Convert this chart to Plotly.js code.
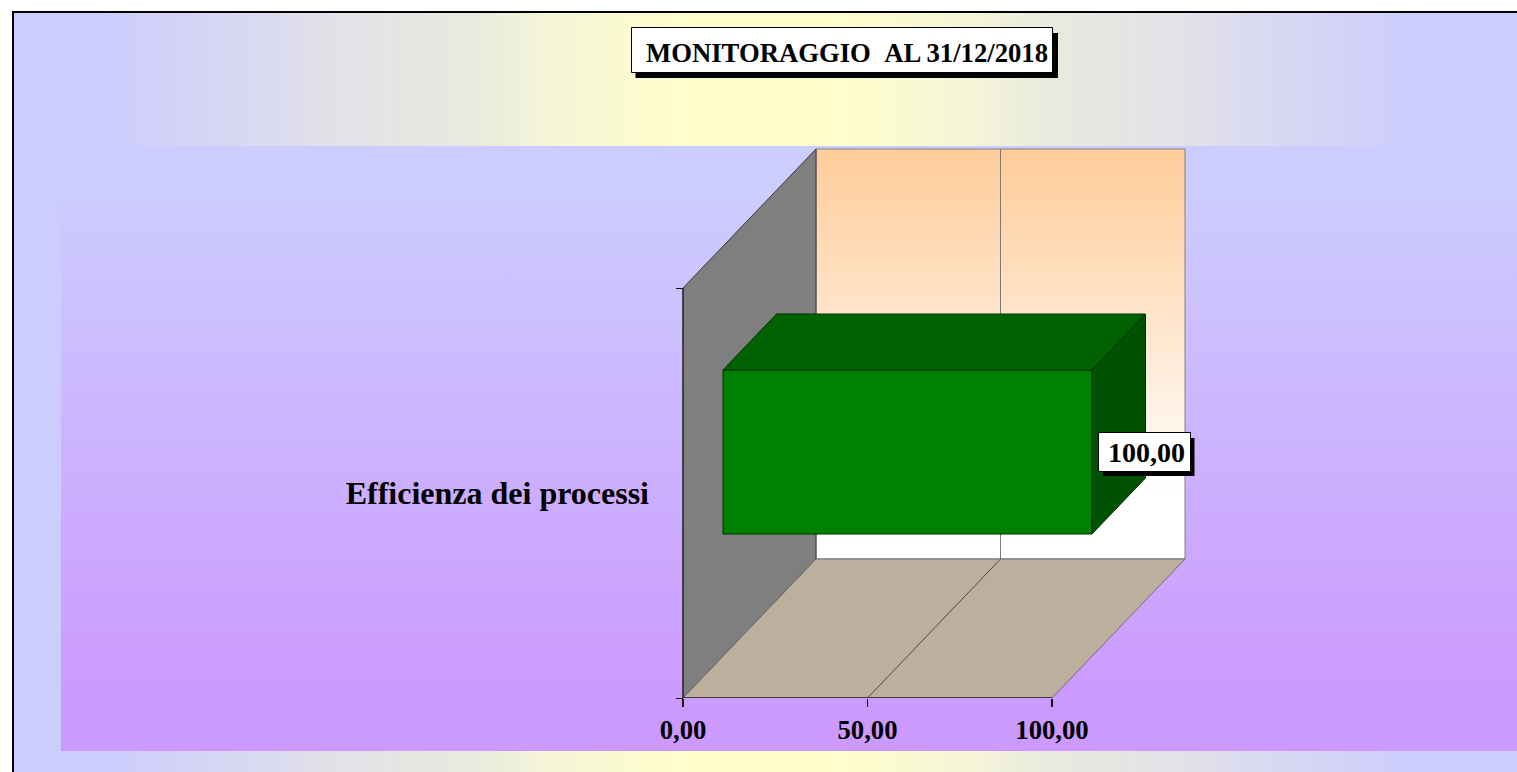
<!DOCTYPE html>
<html>
<head>
<meta charset="utf-8">
<script src="https://cdn.plot.ly/plotly-3.0.1.min.js"></script>
<style>
html,body{margin:0;padding:0;background:#fff;width:1517px;height:772px;overflow:hidden}
#outer{position:absolute;left:12px;top:11px;width:1505px;height:761px;box-sizing:border-box;border-left:2px solid #000;border-top:2px solid #000;
 background:linear-gradient(to right,#ccccff 0px,#ccccff 90px,#d0d0fb 131px,#dadaf0 256px,#e0e0ea 298px,#e9ebdd 466px,#f5f5d8 532px,#fefdcc 666px,#fefdcc 826px,#f5f5d8 960px,#e9ebdd 1026px,#e0e0ea 1194px,#dadaf0 1236px,#d0d0fb 1361px,#ccccff 1403px,#ccccff 1503px)}
#inner{position:absolute;left:61px;top:146px;width:1456px;height:605px;
 background:linear-gradient(to bottom,#ccccff 0%,#ccccff 8%,#cc99ff 92%,#cc99ff 100%)}
#chart{position:absolute;left:0;top:0;width:1517px;height:772px}
</style>
</head>
<body>
<div id="outer"></div>
<div id="inner"></div>
<div id="chart"></div>
<script>
// Data
const chartTitle = "MONITORAGGIO\u00A0\u00A0AL 31/12/2018";
const categories = ["Efficienza dei processi"];
const values = [100];
const valueLabels = ["100,00"];
const xTickVals = [0, 50, 100];
const xTickText = ["0,00", "50,00", "100,00"];

// Geometry of the pseudo-3D frame (pixels on the page)
const W = 1517, H = 772;
const x0px = 683, x100px = 1052, yBottomPx = 698, yTopPx = 288;
const pxPerX = (x100px - x0px) / 100, pxPerY = yBottomPx - yTopPx;
const barShiftX = 40, barShiftY = 41;
const wallDX = 133 / pxPerX, wallDY = 139 / pxPerY;
const barDX = 53.5 / pxPerX, barDY = 56 / pxPerY;
const barW = 0.4;
const xMax = 100, yLo = -0.5, yHi = 0.5;
const serif = "Liberation Serif, Times New Roman, serif";

function poly(xs, ys, color, lineColor, axes) {
  return Object.assign({type:"scatter", mode:"lines", x:xs.concat(xs[0]), y:ys.concat(ys[0]),
    fill:"toself", fillcolor:color, line:{color:lineColor, width:1}, hoverinfo:"skip", showlegend:false}, axes||{});
}
function line(xs, ys, color, width) {
  return {type:"scatter", mode:"lines", x:xs, y:ys, line:{color:color, width:width||1}, hoverinfo:"skip", showlegend:false};
}
const A2 = {xaxis:"x2", yaxis:"y2"};
const v = values[0];

const wall = poly([wallDX, xMax+wallDX, xMax+wallDX, wallDX], [yLo+wallDY, yLo+wallDY, yHi+wallDY, yHi+wallDY], "#ffcc99", "#808080");
wall.fillgradient = {type:"vertical", start:yHi+wallDY, stop:yLo+wallDY,
  colorscale:[[0,"#ffcc99"],[0.84,"#ffffff"],[1,"#ffffff"]]};

const traces = [
  wall,
  poly([0, wallDX, wallDX, 0], [yLo, yLo+wallDY, yHi+wallDY, yHi], "#7f7f7f", "#3a3a3a"),
  poly([0, xMax, xMax+wallDX, wallDX], [yLo, yLo, yLo+wallDY, yLo+wallDY], "#bdae9e", "#6e6e6e"),
  line([50+wallDX, 50+wallDX], [yLo+wallDY, yHi+wallDY], "#7a7a7a"),
  line([50, 50+wallDX], [yLo, yLo+wallDY], "#4a4a4a"),
  line([0, xMax], [yLo, yLo], "#222222", 1.5),
  line([0, 0], [yLo, yHi], "#222222", 1.2),
  {type:"bar", orientation:"h", x:values, y:[0], width:barW, marker:{color:"#008000", line:{color:"#003000", width:1}},
   xaxis:"x2", yaxis:"y2", hoverinfo:"skip", showlegend:false},
  poly([0, v, v+barDX, barDX], [barW/2, barW/2, barW/2+barDY, barW/2+barDY], "#006200", "#003000", A2),
  poly([v, v+barDX, v+barDX, v], [barW/2, barW/2+barDY, -barW/2+barDY, -barW/2], "#005200", "#003000", A2)
];

const px = (x) => x / W, py = (y) => 1 - y / H;
function rect(x1, y1, x2, y2, fill, lineColor) {
  return {type:"rect", xref:"paper", yref:"paper", x0:px(x1), x1:px(x2), y0:py(y1), y1:py(y2),
    fillcolor:fill, line:{color:lineColor||fill, width:lineColor?1:0}, layer:"above"};
}
const layout = {
  width:W, height:H, margin:{l:0,r:0,t:0,b:0}, autosize:false,
  paper_bgcolor:"rgba(0,0,0,0)", plot_bgcolor:"rgba(0,0,0,0)", showlegend:false,
  title:{text:chartTitle, x:px(847), xanchor:"center", y:py(53), yanchor:"middle",
    font:{family:serif, size:26.7, color:"#000", weight:"bold"}},
  xaxis:{domain:[0,1], range:[-x0px/pxPerX, (W-x0px)/pxPerX], tickmode:"array", tickvals:xTickVals, ticktext:xTickText,
    ticks:"outside", ticklen:8, tickwidth:1.5, tickcolor:"#111", showgrid:false, zeroline:false, showline:false,
    ticklabelstandoff:0, tickfont:{family:serif, size:26.7, color:"#000", weight:"bold"}, anchor:"y"},
  yaxis:{domain:[(H-yBottomPx)/H,1], range:[yLo, yLo + yBottomPx/pxPerY], anchor:"free", position:x0px/W,
    tickmode:"array", tickvals:[0], ticktext:categories, ticks:"", showgrid:false, zeroline:false, showline:false,
    ticklabelstandoff:34, tickfont:{family:serif, size:32, color:"#000", weight:"bold"},
    minor:{tickmode:"array", tickvals:[yLo, yHi], ticks:"outside", ticklen:7, tickwidth:1, tickcolor:"#111", showgrid:false}},
  xaxis2:{domain:[barShiftX/W,1], range:[-x0px/pxPerX, (W-x0px-barShiftX)/pxPerX], visible:false, anchor:"y2"},
  yaxis2:{domain:[(H-yBottomPx+barShiftY)/H,1], range:[yLo, yLo + (yBottomPx-barShiftY)/pxPerY], visible:false, anchor:"x2"},
  shapes:[
    rect(635.5,33,1058,78,"#000"),
    rect(631.5,27.5,1052.5,72.5,"#fff","#000"),
    rect(1103,438,1194.5,476,"#000"),
    rect(1098.5,432.5,1190.5,471.5,"#fff","#000")
  ],
  annotations:[
    {xref:"x2", yref:"y2", x:v, y:0, text:valueLabels[0], showarrow:false, xanchor:"center", yanchor:"middle",
     xshift:(1146-1092), yshift:0, font:{family:serif, size:28, color:"#000", weight:"bold"}}
  ]
};
Plotly.newPlot("chart", traces, layout, {staticPlot:true, displayModeBar:false});
</script>
</body>
</html>
